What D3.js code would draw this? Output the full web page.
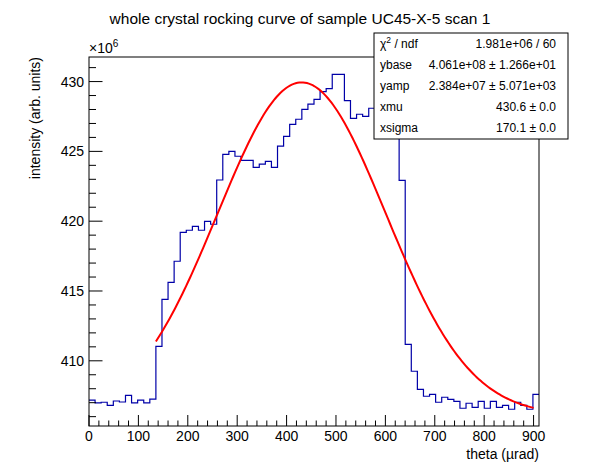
<!DOCTYPE html>
<html>
<head>
<meta charset="utf-8">
<script src="https://cdn.jsdelivr.net/npm/d3@7"></script>
<style>
  body { margin: 0; background: #fff; }
  svg { display: block; font-family: "Liberation Sans", Arial, sans-serif; }
</style>
</head>
<body>
<div id="chart"></div>
<script>
// histogram counts per bin, in units of 1e6 (bins 47-50 are hidden by the stats box, estimated)
const counts = [
  407.19, 406.98, 407.03, 406.81, 407.12, 407.05, 407.53, 406.98, 407.19, 406.98,
  407.26, 411.04, 414.40, 415.62, 417.13, 419.20, 419.35, 419.63, 419.35, 419.99,
  419.78, 422.95, 424.79, 425.00, 424.65, 424.36, 424.36, 423.86, 424.08, 424.29,
  423.86, 425.37, 426.08, 426.94, 427.30, 428.01, 428.39, 428.73, 429.28, 429.49,
  430.52, 430.52, 428.63, 427.37, 427.66, 427.51, 428.09, 428.40, 428.60, 428.20,
  427.50, 422.93, 411.18, 409.25, 407.96, 407.46, 407.60, 407.03, 407.39, 407.24,
  407.10, 406.60, 406.96, 406.67, 407.10, 406.60, 407.10, 406.67, 406.81, 406.53,
  407.03, 406.81, 406.53, 407.60
];
const xMin = 0, xMax = 911;           // histogram range (µrad)
const yMin = 405.33, yMax = 431.76;   // frame range (1e6)
const xTicks = [0, 100, 200, 300, 400, 500, 600, 700, 800, 900];
const yTicks = [410, 415, 420, 425, 430];

// fit: ybase + yamp * exp(-0.5 ((x - xmu)/xsigma)^2)
const fitParams = { ybase: 406.1, yamp: 23.84, xmu: 430.6, xsigma: 170.1 };
const fitRange = [135.4, 900];
const statLabels = ["χ2 / ndf", "ybase", "yamp", "xmu", "xsigma"];
const statValues = ["1.981e+06 / 60", "4.061e+08 ± 1.266e+01", "2.384e+07 ± 5.071e+03",
  "430.6 ± 0.0", "170.1 ± 0.0"];

const width = 598, height = 474;
const margin = { left: 89, right: 59, top: 57, bottom: 48 };

const svg = d3.select("#chart").append("svg")
  .attr("width", width)
  .attr("height", height);

const x = d3.scaleLinear().domain([xMin, xMax]).range([margin.left, width - margin.right]);
const y = d3.scaleLinear().domain([yMin, yMax]).range([height - margin.bottom, margin.top]);

const binW = (xMax - xMin) / counts.length;

// histogram outline as steps
const pts = [];
counts.forEach((c, i) => {
  pts.push([xMin + i * binW, c]);
  pts.push([xMin + (i + 1) * binW, c]);
});
const line = d3.line().x(d => x(d[0])).y(d => y(d[1]));

svg.append("path")
  .datum(pts)
  .attr("fill", "none")
  .attr("stroke", "#0000a8")
  .attr("stroke-width", 1.2)
  .attr("d", line);

// fit curve
const gauss = xv => fitParams.ybase + fitParams.yamp *
  Math.exp(-0.5 * Math.pow((xv - fitParams.xmu) / fitParams.xsigma, 2));
const fitPts = d3.range(0, 201).map(k => {
  const xv = fitRange[0] + (fitRange[1] - fitRange[0]) * k / 200;
  return [xv, gauss(xv)];
});
svg.append("path")
  .datum(fitPts)
  .attr("fill", "none")
  .attr("stroke", "#ff0000")
  .attr("stroke-width", 2)
  .attr("d", line);

// frame
svg.append("rect")
  .attr("x", x(xMin)).attr("y", y(yMax))
  .attr("width", x(xMax) - x(xMin)).attr("height", y(yMin) - y(yMax))
  .attr("fill", "none").attr("stroke", "#000").attr("stroke-width", 1);

// x axis ticks (inside)
const xMinor = d3.range(0, xMax, 20);
const x0 = y(yMin);
svg.append("g").selectAll("line").data(xMinor).join("line")
  .attr("x1", d => x(d)).attr("x2", d => x(d))
  .attr("y1", x0).attr("y2", d => x0 - (d % 100 === 0 ? 11 : 5.5))
  .attr("stroke", "#000");
svg.append("g").selectAll("text").data(xTicks).join("text")
  .attr("x", d => x(d)).attr("y", x0 + 15)
  .attr("text-anchor", "middle")
  .attr("font-size", 14)
  .text(d => d);

// y axis ticks (inside)
const yMinor = d3.range(406, yMax, 1);
const y0 = x(xMin);
svg.append("g").selectAll("line").data(yMinor).join("line")
  .attr("x1", y0).attr("x2", d => y0 + (d % 5 === 0 ? 13.5 : 7))
  .attr("y1", d => y(d)).attr("y2", d => y(d))
  .attr("stroke", "#000");
svg.append("g").selectAll("text").data(yTicks).join("text")
  .attr("x", y0 - 5).attr("y", d => y(d) + 5)
  .attr("text-anchor", "end")
  .attr("font-size", 14)
  .text(d => d);

// exponent
const ex = svg.append("text").attr("x", y0).attr("y", 53).attr("font-size", 14);
ex.append("tspan").text("×10");
ex.append("tspan").attr("dy", -6).attr("font-size", 10).text("6");

// axis titles
svg.append("text")
  .attr("x", x(xMax)).attr("y", 459)
  .attr("text-anchor", "end")
  .attr("font-size", 14)
  .text("theta (µrad)");
svg.append("text")
  .attr("transform", `translate(40,${y(yMax)}) rotate(-90)`)
  .attr("text-anchor", "end")
  .attr("font-size", 14)
  .text("intensity (arb. units)");

// title
svg.append("text")
  .attr("x", 300).attr("y", 24)
  .attr("text-anchor", "middle")
  .attr("font-size", 15.5)
  .text("whole crystal rocking curve of sample UC45-X-5 scan 1");

// stats box
const box = { x1: 374, x2: 568, y1: 33, y2: 139 };
svg.append("rect")
  .attr("x", box.x1).attr("y", box.y1)
  .attr("width", box.x2 - box.x1).attr("height", box.y2 - box.y1)
  .attr("fill", "#fff").attr("stroke", "#000").attr("stroke-width", 1);
const rowH = (box.y2 - box.y1) / statLabels.length;
statLabels.forEach((lab, i) => {
  const ty = box.y1 + rowH * (i + 0.5) + 4;
  const t = svg.append("text").attr("x", box.x1 + 6).attr("y", ty).attr("font-size", 12);
  if (i === 0) {
    t.append("tspan").text("χ");
    t.append("tspan").attr("dy", -5).attr("font-size", 8.5).text("2");
    t.append("tspan").attr("dy", 5).text(" / ndf");
  } else {
    t.text(lab);
  }
  svg.append("text").attr("x", box.x2 - 12).attr("y", ty)
    .attr("text-anchor", "end").attr("font-size", 12)
    .text(statValues[i]);
});
</script>
</body>
</html>
